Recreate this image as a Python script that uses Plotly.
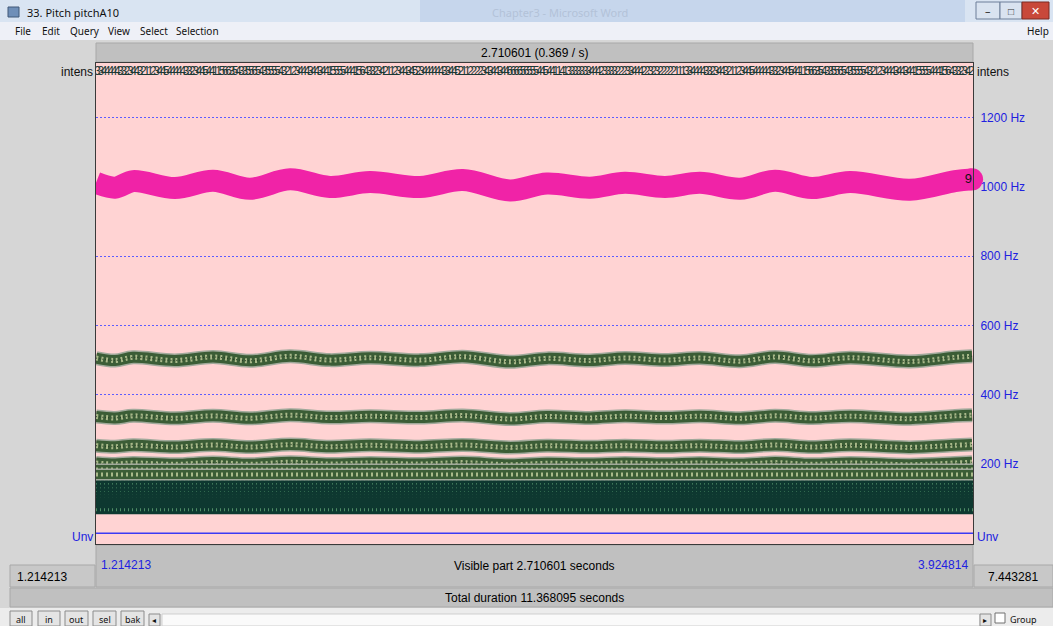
import plotly.graph_objects as go

W, H = 1053, 626

# visible window (seconds) and frequency scale (Hz)
T_START = 1.214213
T_END = 3.924814
F_MIN, F_MAX = -31, 1358
GRID_HZ = [200, 400, 600, 800, 1000, 1200]
GRID_TEXT = ["200 Hz", "400 Hz", "600 Hz", "800 Hz", "1000 Hz", "1200 Hz"]

# selected pitch path (pink), read at its crests and troughs
PATH_T = [1.214, 1.273, 1.329, 1.458, 1.576, 1.690, 1.814, 1.937, 2.061, 2.216,
          2.348, 2.494, 2.608, 2.741, 2.849, 2.973, 3.081, 3.205, 3.313, 3.427,
          3.545, 3.730, 3.869, 3.922]
PATH_HZ = [1012, 998, 1017, 997, 1018, 995, 1022, 1000, 1014, 1000,
           1020, 990, 1010, 998, 1012, 1000, 1012, 995, 1018, 997,
           1014, 992, 1017, 1022]

# candidate bands (digits drawn by Praat), read at the same times
BAND_T = PATH_T
BAND_510 = [506, 499, 508, 499, 509, 498, 511, 500, 507, 500,
            510, 495, 505, 499, 506, 500, 506, 497, 509, 498,
            507, 496, 508, 511]
BAND_340 = [337, 333, 339, 332, 339, 332, 341, 334, 338, 334,
            340, 330, 337, 333, 338, 334, 338, 332, 339, 333,
            338, 331, 339, 341]
BAND_255 = [253, 250, 254, 249, 255, 249, 256, 250, 254, 250,
            255, 248, 253, 250, 253, 250, 253, 249, 255, 249,
            254, 248, 254, 256]
BAND_205 = [203, 200, 203, 199, 204, 199, 205, 200, 203, 200,
            204, 198, 202, 200, 203, 200, 203, 199, 204, 199,
            203, 198, 203, 205]

# dense low candidate rows (Hz)
LIGHT_ROWS = [184, 170]
DARK_ROWS = [154, 140, 128, 117, 107, 98, 90, 83, 77, 72, 68]

# intensity digits along the top strip
INTENS = ("3344444332344321123445444443323445441156635433556543555543212344434"
          "4344155554441564332342112344345234444443344521122223434434466665655"
          "5445441141333333344423333222334442232322222111334444332344321123445"
          "4444433234454411566354335565435555432123444344344155554441564332342")
INTENS_HZ = 1333

fig = go.Figure()

def px(x):
    return x / W

def py(y):
    return 1 - y / H

def band_line(x, y, color, width, dash="solid", shape="spline"):
    fig.add_trace(go.Scatter(x=x, y=y, mode="lines", line_shape=shape,
                             line=dict(color=color, width=width, dash=dash),
                             hoverinfo="skip"))

# candidate bands
for band in [BAND_510, BAND_340, BAND_255, BAND_205]:
    band_line(BAND_T, band, "#a1a99b", 14)
    band_line(BAND_T, band, "#3b5d36", 11)
    band_line(BAND_T, band, "#a9b98a", 5, "2px,3px")
    band_line(BAND_T, band, "#233a22", 1, "1px,2px")

for f in DARK_ROWS:
    band_line([T_START, T_END], [f, f], "#0e3830", 9, shape="linear")
    band_line([T_START, T_END], [f, f], "#4f8d66", 3, "1px,3px", "linear")
for f in LIGHT_ROWS:
    band_line([T_START, T_END], [f, f], "#a1a99b", 12, shape="linear")
    band_line([T_START, T_END], [f, f], "#3b5d36", 9, shape="linear")
    band_line([T_START, T_END], [f, f], "#a9b98a", 4, "2px,3px", "linear")

# pitch path
band_line(PATH_T, PATH_HZ, "#f023a7", 22)
fig.add_trace(go.Scatter(x=[PATH_T[0], PATH_T[-1]], y=[PATH_HZ[0], PATH_HZ[-1]], mode="markers",
                         marker=dict(color="#f023a7", size=22), cliponaxis=False, hoverinfo="skip"))
fig.add_trace(go.Scatter(x=[PATH_T[-1]], y=[PATH_HZ[-1]], mode="text", text=["9"],
                         textposition="middle left",
                         textfont=dict(family="Liberation Sans", size=13, color="#111"),
                         cliponaxis=False, hoverinfo="skip"))

# unvoiced baseline
band_line([T_START, T_END], [0, 0], "#3b3bf5", 1.5, shape="linear")

# intensity digits
step = (T_END - T_START) / len(INTENS)
fig.add_trace(go.Scatter(x=[T_START + (i + 0.5) * step for i in range(len(INTENS))],
                         y=[INTENS_HZ] * len(INTENS), mode="text", text=list(INTENS),
                         textfont=dict(family="Liberation Sans Narrow, Liberation Sans", size=12,
                                       color="#1c3a36"),
                         cliponaxis=True, hoverinfo="skip"))

shapes = []
ann = []

def rect(x0, y0, x1, y1, fill, line="rgba(0,0,0,0)", lw=1):
    shapes.append(dict(type="rect", xref="paper", yref="paper",
                       x0=px(x0), x1=px(x1), y0=py(y1), y1=py(y0),
                       fillcolor=fill, line=dict(color=line, width=lw), layer="below"))

def text(x, y, s, size=12, color="#000", anchor="center", family="Liberation Sans"):
    ann.append(dict(x=px(x), y=py(y), xref="paper", yref="paper", text=s, showarrow=False,
                    xanchor=anchor, yanchor="middle",
                    font=dict(family=family, size=size, color=color)))

# window chrome
rect(0, 0, W, 22, "#d9e4f2")
rect(420, 0, 965, 22, "#c6d6ec")
rect(8, 7, 19, 17, "#6f8fb8", "#405878")
text(25, 12, "33. Pitch pitchA10", 11, "#111", "left", "Noto Sans")
text(560, 12, "Chapter3 - Microsoft Word", 11, "#b3c2d8", "center", "Noto Sans")
rect(976, 2, 1000, 19, "#d9e3f0", "#6c7f99")
rect(1000, 2, 1022, 19, "#d9e3f0", "#6c7f99")
rect(1022, 2, 1049, 19, "#c8483a", "#7a2a22")
text(988, 11, "–", 11, "#333", "center", "Noto Sans")
text(1011, 11, "□", 10, "#333", "center", "Noto Sans")
text(1035, 11, "✕", 11, "#fff", "center", "Noto Sans")
rect(0, 22, W, 40, "#eef0f7")
for label, x in [("File", 13), ("Edit", 40), ("Query", 68), ("View", 106),
                 ("Select", 138), ("Selection", 174)]:
    text(x, 31, label, 10, "#111", "left", "Noto Sans")
text(1051, 31, "Help", 10, "#111", "right", "Noto Sans")

# top strip
rect(96, 43, 973, 62, "#c0c0c0", "#a8a8a8")
text(534, 53, "2.710601 (0.369 / s)", 12)
text(95, 72, "intens", 12, "#111", "right")
text(975, 72, "intens", 12, "#111", "left")
text(95, 537, "Unv", 12, "#2121e0", "right")
text(975, 537, "Unv", 12, "#2121e0", "left")

# bottom bars
rect(96, 545, 973, 587, "#c0c0c0", "#a8a8a8")
rect(10, 565, 95, 587, "#c8c8c8", "#a8a8a8")
rect(974, 565, W, 587, "#c8c8c8", "#a8a8a8")
text(99, 565, "1.214213", 12, "#2121e0", "left")
text(534, 566, "Visible part 2.710601 seconds", 12)
text(970, 565, "3.924814", 12, "#2121e0", "right")
text(42, 577, "1.214213", 12)
text(1013, 577, "7.443281", 12)
rect(10, 588, W, 607, "#c0c0c0", "#a8a8a8")
text(534, 598, "Total duration 11.368095 seconds", 12)

# button row
rect(0, 608, W, 626, "#ececec")
for label, x0, x1 in [("all", 10, 32), ("in", 38, 60), ("out", 65, 88),
                      ("sel", 93, 116), ("bak", 121, 144)]:
    rect(x0, 611, x1, 626, "#e4e4e4", "#8c8c8c")
    text((x0 + x1) / 2, 619, label, 9, "#111", "center", "Noto Sans")
rect(149, 614, 160, 626, "#e4e4e4", "#8c8c8c")
text(154, 620, "◂", 8, "#111")
rect(162, 614, 980, 626, "#fafafa", "#cfcfcf")
rect(980, 614, 991, 626, "#e4e4e4", "#8c8c8c")
text(985, 620, "▸", 8, "#111")
rect(995, 613, 1005, 623, "#ffffff", "#707070")
text(1008, 619, "Group", 9, "#111", "left", "Noto Sans")

fig.update_layout(
    width=W, height=H, margin=dict(l=0, r=0, t=0, b=0),
    paper_bgcolor="#d6d6d6", plot_bgcolor="#ffd3d3",
    showlegend=False, shapes=shapes, annotations=ann,
    xaxis=dict(domain=[px(96), px(973)], range=[T_START, T_END], showgrid=False,
               zeroline=False, showticklabels=False, ticks="",
               showline=True, mirror=True, linecolor="#3a3a3a", linewidth=1),
    yaxis=dict(domain=[py(544), py(63)], range=[F_MIN, F_MAX], side="right",
               tickvals=GRID_HZ, ticktext=GRID_TEXT, ticks="", ticklabelstandoff=4,
               tickfont=dict(family="Liberation Sans", size=12, color="#2121e0"),
               showgrid=True, gridcolor="#5c5cff", griddash="2px,2px", gridwidth=1,
               zeroline=False, showline=True, mirror=True, linecolor="#3a3a3a", linewidth=1),
)

fig.write_html("out.html", config={"displayModeBar": False},
               post_script="document.body.style.margin='0';")
